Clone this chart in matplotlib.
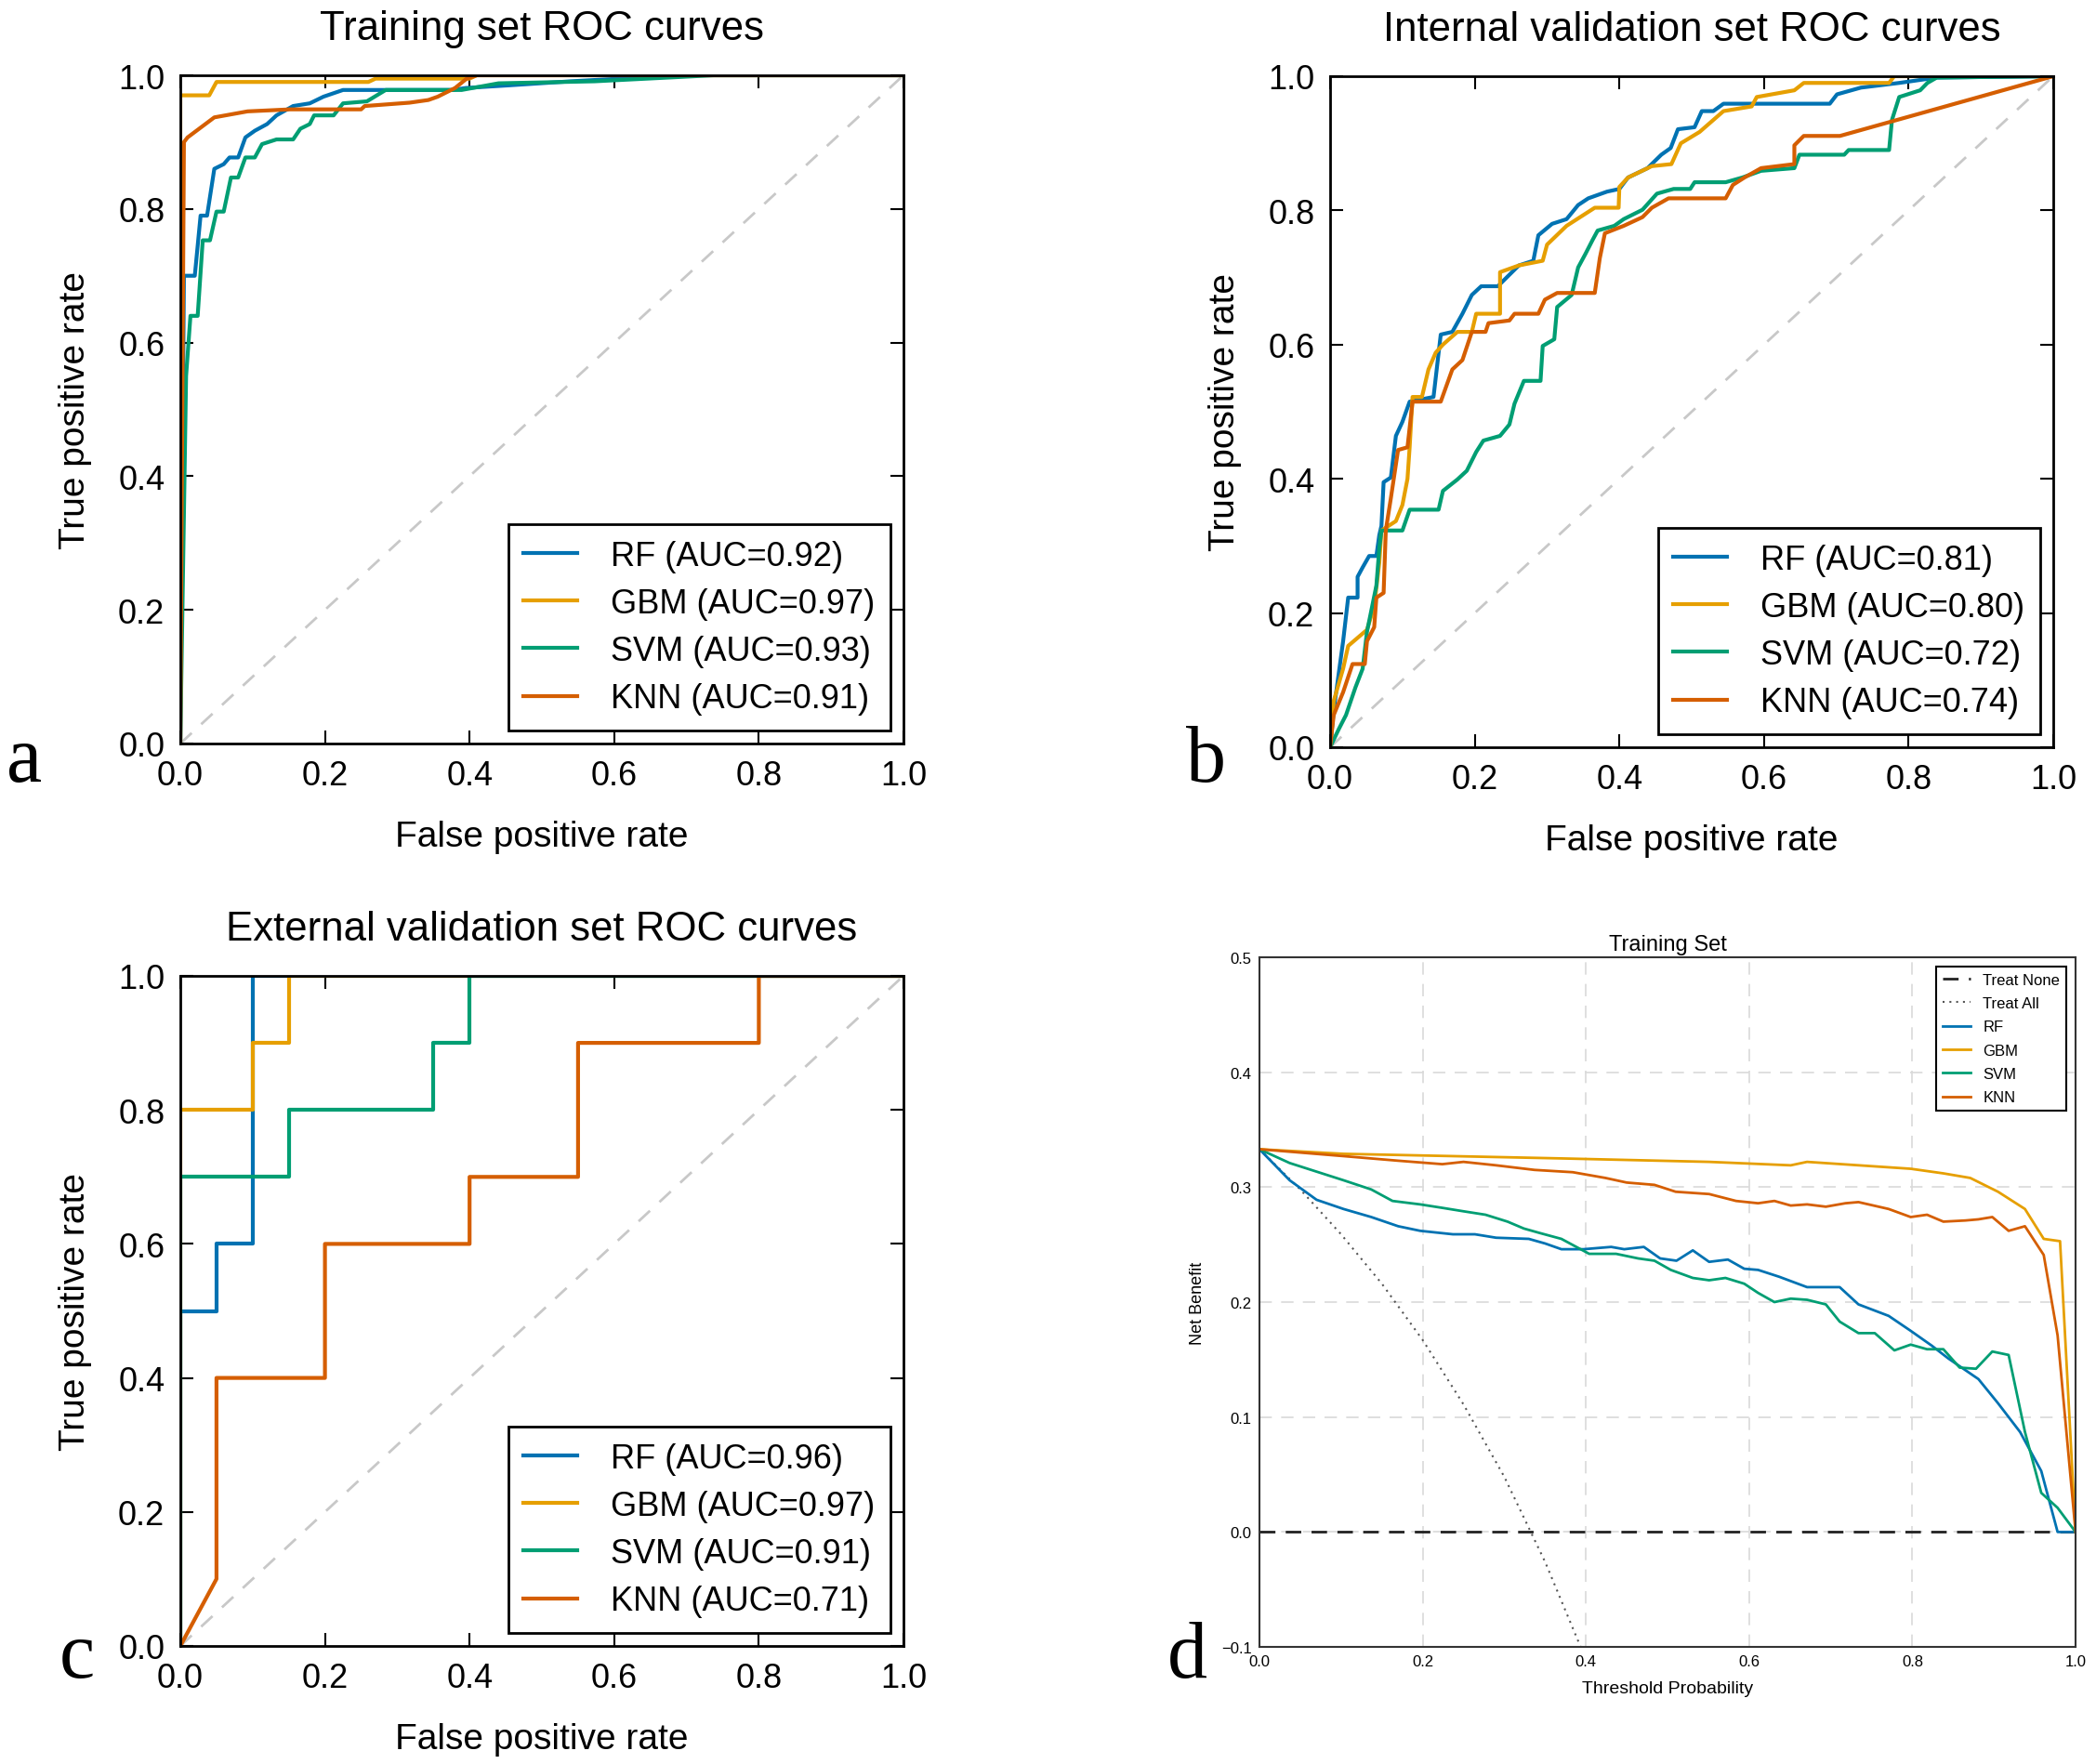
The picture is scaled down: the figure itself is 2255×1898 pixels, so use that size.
"""ROC curves for train / internal / external sets plus decision curve (training set)"""

import matplotlib
matplotlib.use("Agg")
import matplotlib.pyplot as plt
import numpy as np

# colours (seaborn colorblind)
C_RF = "#0072B2"
C_GBM = "#E69F00"
C_SVM = "#009E73"
C_KNN = "#D55E00"

models = ["RF", "GBM", "SVM", "KNN"]

# --- a: training set ROC (fpr, tpr)
train_rf_fpr = [0, 0.005, 0.02, 0.028, 0.037, 0.047, 0.06, 0.068, 0.08, 0.09, 0.103, 0.12, 0.133,
                0.156, 0.179, 0.198, 0.225, 0.277, 0.376, 0.395, 0.455, 0.54, 0.625, 0.64, 1.0]
train_rf_tpr = [0, 0.70, 0.70, 0.79, 0.79, 0.86, 0.867, 0.877, 0.877, 0.907, 0.917, 0.927, 0.94,
                0.954, 0.958, 0.968, 0.978, 0.978, 0.978, 0.981, 0.985, 0.991, 0.996, 1.0, 1.0]
train_gbm_fpr = [0, 0.0, 0.04, 0.05, 0.26, 0.27, 0.40, 0.41, 1.0]
train_gbm_tpr = [0, 0.97, 0.97, 0.99, 0.99, 0.995, 0.995, 1.0, 1.0]
train_svm_fpr = [0, 0.008, 0.014, 0.024, 0.031, 0.041, 0.05, 0.06, 0.07, 0.08, 0.09, 0.103, 0.113,
                 0.133, 0.156, 0.166, 0.179, 0.185, 0.212, 0.225, 0.258, 0.284, 0.389, 0.44, 0.573,
                 0.737, 1.0]
train_svm_tpr = [0, 0.55, 0.64, 0.64, 0.753, 0.753, 0.796, 0.796, 0.847, 0.847, 0.877, 0.877, 0.897,
                 0.904, 0.904, 0.92, 0.927, 0.94, 0.94, 0.958, 0.961, 0.978, 0.978, 0.988, 0.991,
                 1.0, 1.0]
train_knn_fpr = [0, 0.005, 0.01, 0.047, 0.093, 0.152, 0.25, 0.255, 0.317, 0.343, 0.356, 0.38, 0.396,
                 0.41, 1.0]
train_knn_tpr = [0, 0.90, 0.907, 0.937, 0.946, 0.949, 0.949, 0.954, 0.959, 0.963, 0.968, 0.981, 0.995,
                 1.0, 1.0]
train_auc = [0.92, 0.97, 0.93, 0.91]

# --- b: internal validation ROC
int_rf_fpr = [0, 0.005, 0.018, 0.025, 0.038, 0.038, 0.045, 0.054, 0.064, 0.068, 0.071, 0.074, 0.084,
              0.091, 0.10, 0.11, 0.143, 0.153, 0.169, 0.183, 0.196, 0.209, 0.232, 0.245, 0.261,
              0.281, 0.288, 0.307, 0.327, 0.343, 0.357, 0.383, 0.40, 0.412, 0.439, 0.458, 0.471,
              0.481, 0.504, 0.514, 0.53, 0.544, 0.691, 0.701, 0.734, 0.787, 0.839, 1.0]
int_rf_tpr = [0, 0.055, 0.158, 0.223, 0.223, 0.254, 0.268, 0.285, 0.285, 0.316, 0.33, 0.395, 0.402,
              0.464, 0.485, 0.515, 0.522, 0.615, 0.619, 0.646, 0.674, 0.687, 0.687, 0.701, 0.718,
              0.725, 0.763, 0.78, 0.787, 0.808, 0.818, 0.828, 0.832, 0.849, 0.863, 0.883, 0.893,
              0.921, 0.924, 0.948, 0.948, 0.959, 0.959, 0.973, 0.983, 0.99, 0.998, 1.0]
int_gbm_fpr = [0, 0.005, 0.018, 0.025, 0.051, 0.061, 0.068, 0.071, 0.091, 0.10, 0.107, 0.11, 0.114,
               0.127, 0.136, 0.146, 0.156, 0.176, 0.196, 0.202, 0.235, 0.235, 0.261, 0.294, 0.30,
               0.327, 0.366, 0.399, 0.40, 0.412, 0.445, 0.472, 0.485, 0.511, 0.544, 0.583, 0.59,
               0.642, 0.655, 0.773, 0.78, 1.0]
int_gbm_tpr = [0, 0.069, 0.117, 0.151, 0.175, 0.21, 0.275, 0.323, 0.337, 0.361, 0.40, 0.447, 0.522,
               0.522, 0.563, 0.588, 0.60, 0.619, 0.619, 0.646, 0.646, 0.708, 0.718, 0.725, 0.749,
               0.777, 0.804, 0.804, 0.835, 0.849, 0.866, 0.869, 0.90, 0.917, 0.948, 0.955, 0.969,
               0.979, 0.99, 0.99, 1.0, 1.0]
int_svm_fpr = [0, 0.012, 0.022, 0.035, 0.045, 0.051, 0.064, 0.068, 0.071, 0.10, 0.11, 0.15, 0.156,
               0.176, 0.189, 0.202, 0.212, 0.235, 0.248, 0.255, 0.268, 0.291, 0.294, 0.31, 0.314,
               0.334, 0.343, 0.353, 0.363, 0.37, 0.393, 0.406, 0.432, 0.452, 0.475, 0.498, 0.504,
               0.547, 0.57, 0.596, 0.642, 0.649, 0.711, 0.717, 0.773, 0.777, 0.787, 0.816, 0.826,
               0.839, 1.0]
int_svm_tpr = [0, 0.027, 0.048, 0.089, 0.117, 0.172, 0.241, 0.296, 0.323, 0.323, 0.354, 0.354, 0.382,
               0.399, 0.412, 0.44, 0.457, 0.464, 0.481, 0.512, 0.546, 0.546, 0.598, 0.608, 0.656,
               0.674, 0.715, 0.735, 0.756, 0.77, 0.777, 0.787, 0.801, 0.825, 0.832, 0.832, 0.842,
               0.842, 0.849, 0.859, 0.863, 0.883, 0.883, 0.89, 0.89, 0.935, 0.969, 0.979, 0.99,
               0.998, 1.0]
int_knn_fpr = [0, 0.005, 0.018, 0.031, 0.048, 0.051, 0.061, 0.064, 0.074, 0.077, 0.084, 0.094, 0.107,
               0.114, 0.153, 0.16, 0.169, 0.183, 0.196, 0.215, 0.219, 0.248, 0.255, 0.288, 0.297,
               0.314, 0.366, 0.373, 0.38, 0.406, 0.432, 0.445, 0.468, 0.547, 0.557, 0.573, 0.596,
               0.642, 0.642, 0.655, 0.705, 1.0]
int_knn_tpr = [0, 0.048, 0.082, 0.124, 0.124, 0.158, 0.179, 0.223, 0.23, 0.323, 0.371, 0.443, 0.447,
               0.515, 0.515, 0.536, 0.563, 0.577, 0.619, 0.619, 0.632, 0.636, 0.646, 0.646, 0.667,
               0.677, 0.677, 0.729, 0.766, 0.777, 0.79, 0.804, 0.818, 0.818, 0.838, 0.849, 0.863,
               0.869, 0.897, 0.911, 0.911, 1.0]
int_auc = [0.81, 0.80, 0.72, 0.74]

# --- c: external validation ROC
ext_rf_fpr = [0, 0, 0.05, 0.05, 0.10, 0.10, 1.0]
ext_rf_tpr = [0, 0.5, 0.5, 0.6, 0.6, 1.0, 1.0]
ext_gbm_fpr = [0, 0, 0.10, 0.10, 0.15, 0.15, 1.0]
ext_gbm_tpr = [0, 0.8, 0.8, 0.9, 0.9, 1.0, 1.0]
ext_svm_fpr = [0, 0, 0.15, 0.15, 0.35, 0.35, 0.40, 0.40, 1.0]
ext_svm_tpr = [0, 0.7, 0.7, 0.8, 0.8, 0.9, 0.9, 1.0, 1.0]
ext_knn_fpr = [0, 0.05, 0.05, 0.20, 0.20, 0.40, 0.40, 0.55, 0.55, 0.80, 0.80, 1.0]
ext_knn_tpr = [0, 0.1, 0.4, 0.4, 0.6, 0.6, 0.7, 0.7, 0.9, 0.9, 1.0, 1.0]
ext_auc = [0.96, 0.97, 0.91, 0.71]

# --- d: decision curve, training set
dca_all_t = [0, 0.05, 0.1, 0.15, 0.2, 0.25, 0.3, 0.35, 0.4]
dca_all_nb = [0.333, 0.298, 0.259, 0.216, 0.167, 0.111, 0.048, -0.026, -0.111]
dca_rf_t = [0, 0.037, 0.07, 0.103, 0.137, 0.17, 0.197, 0.237, 0.264, 0.29, 0.33, 0.35, 0.37, 0.397,
            0.431, 0.447, 0.471, 0.491, 0.511, 0.531, 0.551, 0.574, 0.594, 0.611, 0.637, 0.671,
            0.691, 0.711, 0.734, 0.771, 0.798, 0.824, 0.844, 0.881, 0.905, 0.932, 0.958, 0.978,
            1.0]
dca_rf_nb = [0.333, 0.306, 0.289, 0.281, 0.274, 0.266, 0.262, 0.259, 0.259, 0.256, 0.255, 0.251,
             0.246, 0.246, 0.248, 0.246, 0.248, 0.238, 0.236, 0.245, 0.235, 0.237, 0.229, 0.228,
             0.222, 0.213, 0.213, 0.213, 0.198, 0.188, 0.175, 0.162, 0.151, 0.133, 0.112, 0.087,
             0.053, 0.0, 0.0]
dca_gbm_t = [0, 0.103, 0.237, 0.37, 0.551, 0.651, 0.671, 0.798, 0.838, 0.871, 0.905, 0.938, 0.961,
             0.981, 1.0]
dca_gbm_nb = [0.333, 0.329, 0.327, 0.325, 0.322, 0.319, 0.322, 0.316, 0.312, 0.308, 0.296, 0.281,
              0.255, 0.253, 0.0]
dca_svm_t = [0, 0.037, 0.103, 0.137, 0.163, 0.197, 0.224, 0.25, 0.277, 0.304, 0.324, 0.344, 0.37,
             0.404, 0.437, 0.464, 0.484, 0.504, 0.531, 0.551, 0.571, 0.594, 0.611, 0.631, 0.651,
             0.671, 0.694, 0.711, 0.734, 0.754, 0.778, 0.798, 0.818, 0.838, 0.858, 0.878, 0.898,
             0.918, 0.938, 0.958, 0.978, 1.0]
dca_svm_nb = [0.333, 0.321, 0.306, 0.298, 0.288, 0.285, 0.282, 0.279, 0.276, 0.27, 0.264, 0.26,
              0.255, 0.242, 0.242, 0.238, 0.236, 0.228, 0.221, 0.219, 0.221, 0.216, 0.208, 0.2,
              0.203, 0.202, 0.198, 0.183, 0.173, 0.173, 0.158, 0.163, 0.159, 0.159, 0.143, 0.142,
              0.157, 0.154, 0.087, 0.034, 0.021, 0.0]
dca_knn_t = [0, 0.103, 0.17, 0.224, 0.25, 0.29, 0.337, 0.384, 0.424, 0.45, 0.484, 0.51, 0.551, 0.584,
             0.611, 0.631, 0.651, 0.671, 0.694, 0.718, 0.734, 0.771, 0.798, 0.818, 0.838, 0.865,
             0.881, 0.898, 0.918, 0.938, 0.961, 0.978, 1.0]
dca_knn_nb = [0.333, 0.327, 0.323, 0.32, 0.322, 0.319, 0.315, 0.313, 0.308, 0.304, 0.302, 0.296,
              0.294, 0.288, 0.286, 0.288, 0.284, 0.285, 0.283, 0.286, 0.287, 0.281, 0.274, 0.276,
              0.27, 0.271, 0.272, 0.274, 0.262, 0.266, 0.241, 0.171, 0.0]

SANS = "Liberation Sans"
SERIF = "Liberation Serif"
plt.rcParams["font.family"] = [SANS, "DejaVu Sans"]
plt.rcParams["axes.unicode_minus"] = True

W, H = 2255, 1899
fig = plt.figure(figsize=(W / 100, H / 100), dpi=100)


def px_axes(x0, y0, x1, y1):
    return fig.add_axes([x0 / W, 1 - y1 / H, (x1 - x0) / W, (y1 - y0) / H])


def roc_panel(ax, curves, aucs, title):
    cols = [C_RF, C_GBM, C_SVM, C_KNN]
    ax.plot([0, 1], [0, 1], ls=(0, (6, 5)), color="#c8c8c8", lw=2)
    for (fx, ty), name, a, c in zip(curves, models, aucs, cols):
        ax.plot(fx, ty, color=c, lw=3, label=f"{name} (AUC={a:.2f})")
    ax.set_xlim(0, 1)
    ax.set_ylim(0, 1)
    ax.set_xticks(np.arange(0, 1.01, 0.2))
    ax.set_yticks(np.arange(0, 1.01, 0.2))
    ax.tick_params(direction="in", top=True, right=True, length=10, width=1.5,
                   labelsize=26, pad=12)
    for s in ax.spines.values():
        s.set_linewidth(2)
    ax.set_xlabel("False positive rate", fontsize=28, labelpad=22)
    ax.set_ylabel("True positive rate", fontsize=28, labelpad=20)
    ax.set_title(title, fontsize=31.5, pad=28)
    leg = ax.legend(loc="lower right", fontsize=26, frameon=True, fancybox=False,
                    edgecolor="black", framealpha=1, handlelength=1.6,
                    handletextpad=1.0, labelspacing=0.45, borderaxespad=0.4,
                    borderpad=0.45)
    leg.get_frame().set_linewidth(2)


ax_a = px_axes(194, 82, 972, 801)
roc_panel(ax_a, [(train_rf_fpr, train_rf_tpr), (train_gbm_fpr, train_gbm_tpr),
                 (train_svm_fpr, train_svm_tpr), (train_knn_fpr, train_knn_tpr)],
          train_auc, "Training set ROC curves")

ax_b = px_axes(1431, 83, 2209, 805)
roc_panel(ax_b, [(int_rf_fpr, int_rf_tpr), (int_gbm_fpr, int_gbm_tpr),
                 (int_svm_fpr, int_svm_tpr), (int_knn_fpr, int_knn_tpr)],
          int_auc, "Internal validation set ROC curves")

ax_c = px_axes(194, 1051, 972, 1772)
roc_panel(ax_c, [(ext_rf_fpr, ext_rf_tpr), (ext_gbm_fpr, ext_gbm_tpr),
                 (ext_svm_fpr, ext_svm_tpr), (ext_knn_fpr, ext_knn_tpr)],
          ext_auc, "External validation set ROC curves")

# --- d
ax_d = px_axes(1355, 1031, 2233, 1773)
ax_d.grid(True, ls=(0, (8, 6)), color="#d9d9d9", lw=1.2)
ax_d.set_axisbelow(True)
ax_d.axhline(0, color="#222222", ls=(0, (6, 4)), lw=2, label="Treat None")
ax_d.plot(dca_all_t, dca_all_nb, color="#555555", ls=(0, (1, 2.5)), lw=1.5, label="Treat All")
ax_d.plot(dca_rf_t, dca_rf_nb, color=C_RF, lw=2, label="RF")
ax_d.plot(dca_gbm_t, dca_gbm_nb, color=C_GBM, lw=2, label="GBM")
ax_d.plot(dca_svm_t, dca_svm_nb, color=C_SVM, lw=2, label="SVM")
ax_d.plot(dca_knn_t, dca_knn_nb, color=C_KNN, lw=2, label="KNN")
ax_d.set_xlim(0, 1)
ax_d.set_ylim(-0.1, 0.5)
ax_d.set_xticks(np.arange(0, 1.01, 0.2))
ax_d.set_yticks(np.arange(-0.1, 0.51, 0.1))
ax_d.tick_params(length=0, labelsize=12, pad=6)
for s in ax_d.spines.values():
    s.set_linewidth(1.5)
    s.set_color("#333333")
ax_d.set_xlabel("Threshold Probability", fontsize=14, labelpad=9)
ax_d.set_ylabel("Net Benefit", fontsize=13, labelpad=12)
ax_d.set_title("Training Set", fontsize=17, pad=6)
leg_d = ax_d.legend(loc="upper right", fontsize=12, frameon=True, fancybox=False,
                    edgecolor="black", framealpha=1, handlelength=1.8,
                    labelspacing=0.62, borderaxespad=0.6)
leg_d.get_frame().set_linewidth(1.5)

# panel letters
for lab, x, y in [("a", 26, 841), ("b", 1298, 841), ("c", 83, 1805), ("d", 1277, 1805)]:
    fig.text(x / W, 1 - y / H, lab, fontsize=62, family=SERIF, ha="center", va="baseline")

fig.savefig("out.png", dpi=100)
